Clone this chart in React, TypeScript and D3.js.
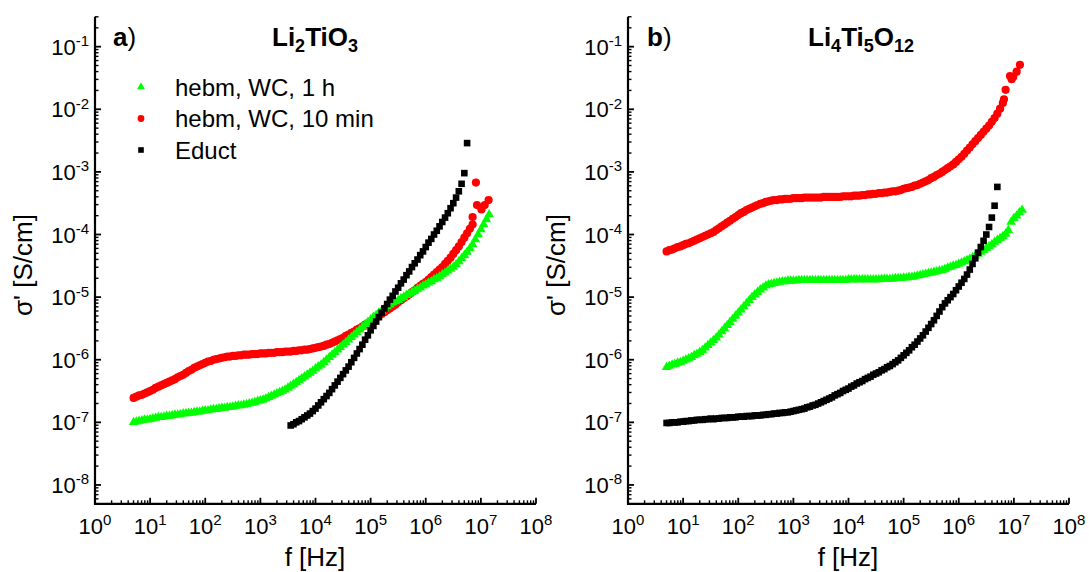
import React from 'react';
import * as d3 from 'd3';

// ---------- data ----------
// measurement frequency grid, log10(f / Hz)
const LOG_F = [
  0.70, 0.75, 0.80, 0.85, 0.90, 0.95, 1.00, 1.05, 1.10, 1.15,
  1.20, 1.25, 1.30, 1.35, 1.40, 1.45, 1.50, 1.55, 1.60, 1.65,
  1.70, 1.75, 1.80, 1.85, 1.90, 1.95, 2.00, 2.05, 2.10, 2.15,
  2.20, 2.25, 2.30, 2.35, 2.40, 2.45, 2.50, 2.55, 2.60, 2.65,
  2.70, 2.75, 2.80, 2.85, 2.90, 2.95, 3.00, 3.05, 3.10, 3.15,
  3.20, 3.25, 3.30, 3.35, 3.40, 3.45, 3.50, 3.55, 3.60, 3.65,
  3.70, 3.75, 3.80, 3.85, 3.90, 3.95, 4.00, 4.05, 4.10, 4.15,
  4.20, 4.25, 4.30, 4.35, 4.40, 4.45, 4.50, 4.55, 4.60, 4.65,
  4.70, 4.75, 4.80, 4.85, 4.90, 4.95, 5.00, 5.05, 5.10, 5.15,
  5.20, 5.25, 5.30, 5.35, 5.40, 5.45, 5.50, 5.55, 5.60, 5.65,
  5.70, 5.75, 5.80, 5.85, 5.90, 5.95, 6.00, 6.05, 6.10, 6.15,
  6.20, 6.25, 6.30, 6.35, 6.40, 6.45, 6.50, 6.55, 6.60, 6.65,
  6.70, 6.75, 6.80, 6.85, 6.90, 6.95, 7.00, 7.05, 7.10, 7.15,
];

// Li2TiO3 — log10(sigma' / S cm^-1)
const LI2TIO3_1H = [
  -7.00, -6.99, -6.98, -6.97, -6.96, -6.96, -6.95, -6.94, -6.93, -6.92,
  -6.92, -6.91, -6.90, -6.90, -6.89, -6.88, -6.88, -6.87, -6.86, -6.86,
  -6.85, -6.85, -6.84, -6.83, -6.83, -6.82, -6.81, -6.81, -6.80, -6.79,
  -6.79, -6.78, -6.77, -6.77, -6.76, -6.76, -6.75, -6.74, -6.73, -6.73,
  -6.72, -6.71, -6.70, -6.69, -6.68, -6.66, -6.65, -6.64, -6.62, -6.60,
  -6.58, -6.56, -6.54, -6.52, -6.50, -6.48, -6.45, -6.42, -6.39, -6.36,
  -6.33, -6.30, -6.27, -6.24, -6.21, -6.18, -6.14, -6.11, -6.08, -6.04,
  -6.00, -5.96, -5.92, -5.88, -5.84, -5.80, -5.76, -5.72, -5.68, -5.64,
  -5.60, -5.56, -5.52, -5.48, -5.44, -5.40, -5.36, -5.32, -5.29, -5.25,
  -5.22, -5.18, -5.15, -5.12, -5.09, -5.07, -5.05, -5.02, -5.00, -4.97,
  -4.95, -4.92, -4.90, -4.87, -4.85, -4.82, -4.80, -4.77, -4.75, -4.72,
  -4.70, -4.67, -4.64, -4.61, -4.58, -4.55, -4.52, -4.48, -4.43, -4.38,
  -4.33, -4.28, -4.22, -4.16, -4.08, -4.00, -3.92, -3.84, -3.76, -3.68,
];
const LI2TIO3_10MIN = [
  -6.61, -6.59, -6.57, -6.56, -6.54, -6.52, -6.50, -6.48, -6.45, -6.43,
  -6.41, -6.39, -6.37, -6.35, -6.33, -6.31, -6.28, -6.26, -6.24, -6.21,
  -6.18, -6.16, -6.13, -6.11, -6.09, -6.07, -6.05, -6.03, -6.02, -6.00,
  -5.99, -5.98, -5.97, -5.96, -5.95, -5.95, -5.94, -5.94, -5.93, -5.93,
  -5.92, -5.92, -5.92, -5.91, -5.91, -5.91, -5.90, -5.90, -5.90, -5.89,
  -5.89, -5.89, -5.88, -5.88, -5.88, -5.87, -5.87, -5.87, -5.86, -5.86,
  -5.85, -5.85, -5.84, -5.84, -5.83, -5.82, -5.81, -5.80, -5.79, -5.78,
  -5.76, -5.75, -5.73, -5.71, -5.69, -5.67, -5.65, -5.62, -5.60, -5.57,
  -5.55, -5.52, -5.50, -5.47, -5.44, -5.42, -5.39, -5.36, -5.33, -5.30,
  -5.27, -5.24, -5.21, -5.18, -5.15, -5.12, -5.08, -5.05, -5.02, -4.99,
  -4.96, -4.92, -4.89, -4.85, -4.82, -4.79, -4.76, -4.72, -4.68, -4.64,
  -4.60, -4.56, -4.52, -4.47, -4.42, -4.37, -4.31, -4.25, -4.19, -4.12,
  -4.05, -3.98, -3.91, -3.84,
];
const LI2TIO3_10MIN_TAIL_F = [6.85, 6.91, 6.93, 7.01, 7.07, 7.14];
const LI2TIO3_10MIN_TAIL = [-3.72, -3.17, -3.53, -3.60, -3.53, -3.45];
const LI2TIO3_EDUCT_START = 3.55;
const LI2TIO3_EDUCT = [
  -7.05, -7.03, -7.00,
  -6.98, -6.95, -6.92, -6.89, -6.86, -6.82, -6.78, -6.73, -6.68, -6.63,
  -6.58, -6.53, -6.47, -6.41, -6.35, -6.29, -6.23, -6.17, -6.11, -6.04,
  -5.97, -5.90, -5.83, -5.76, -5.68, -5.61, -5.53, -5.46, -5.39, -5.32,
  -5.25, -5.18, -5.11, -5.04, -4.98, -4.91, -4.85, -4.78, -4.72, -4.65,
  -4.59, -4.52, -4.46, -4.40, -4.33, -4.27, -4.20, -4.13, -4.07, -4.00,
  -3.94, -3.87, -3.80, -3.73, -3.66, -3.58, -3.50, -3.41, -3.31, -3.19,
  -3.02, -2.54,
];

// Li4Ti5O12 — log10(sigma' / S cm^-1)
const LI4TI5O12_1H = [
  -6.12, -6.10, -6.08, -6.07, -6.05, -6.04, -6.02, -6.00, -5.98, -5.96,
  -5.93, -5.91, -5.88, -5.85, -5.81, -5.77, -5.73, -5.69, -5.65, -5.60,
  -5.55, -5.50, -5.45, -5.40, -5.35, -5.30, -5.25, -5.20, -5.15, -5.10,
  -5.05, -5.00, -4.96, -4.92, -4.88, -4.85, -4.82, -4.80, -4.79, -4.78,
  -4.77, -4.76, -4.75, -4.75, -4.74, -4.74, -4.74, -4.74, -4.73, -4.73,
  -4.73, -4.73, -4.73, -4.73, -4.73, -4.73, -4.73, -4.73, -4.73, -4.73,
  -4.73, -4.73, -4.73, -4.73, -4.73, -4.73, -4.72, -4.72, -4.72, -4.72,
  -4.72, -4.72, -4.72, -4.72, -4.72, -4.72, -4.72, -4.72, -4.71, -4.71,
  -4.71, -4.71, -4.71, -4.70, -4.70, -4.70, -4.69, -4.69, -4.68, -4.68,
  -4.67, -4.66, -4.65, -4.64, -4.63, -4.62, -4.61, -4.60, -4.59, -4.58,
  -4.57, -4.55, -4.53, -4.52, -4.50, -4.49, -4.47, -4.45, -4.43, -4.41,
  -4.39, -4.37, -4.34, -4.31, -4.28, -4.25, -4.22, -4.19, -4.16, -4.12,
  -4.09, -4.06, -4.03, -3.99, -3.93, -3.80, -3.74, -3.70, -3.65, -3.61,
];
const LI4TI5O12_10MIN = [
  -4.27, -4.25, -4.24, -4.22, -4.20, -4.19, -4.17, -4.15, -4.14, -4.12,
  -4.10, -4.08, -4.06, -4.04, -4.02, -4.00, -3.98, -3.96, -3.93, -3.90,
  -3.87, -3.84, -3.81, -3.78, -3.75, -3.72, -3.69, -3.66, -3.64, -3.61,
  -3.59, -3.57, -3.55, -3.53, -3.51, -3.50, -3.48, -3.47, -3.46, -3.45,
  -3.45, -3.44, -3.44, -3.43, -3.43, -3.43, -3.42, -3.42, -3.42, -3.42,
  -3.41, -3.41, -3.41, -3.41, -3.41, -3.41, -3.41, -3.40, -3.40, -3.40,
  -3.40, -3.40, -3.40, -3.40, -3.39, -3.39, -3.39, -3.39, -3.38, -3.38,
  -3.38, -3.37, -3.37, -3.36, -3.36, -3.35, -3.35, -3.34, -3.34, -3.33,
  -3.33, -3.32, -3.31, -3.31, -3.30, -3.29, -3.27, -3.26, -3.25, -3.24,
  -3.22, -3.21, -3.19, -3.17, -3.15, -3.13, -3.10, -3.08, -3.05, -3.03,
  -3.00, -2.97, -2.94, -2.91, -2.88, -2.84, -2.80, -2.76, -2.71, -2.66,
  -2.61, -2.56, -2.51, -2.46, -2.41, -2.36, -2.31, -2.26, -2.20, -2.14,
  -2.07, -1.99, -1.90,
];
const LI4TI5O12_10MIN_TAIL_F = [6.82, 6.85, 6.93, 6.96, 6.99, 7.05, 7.11];
const LI4TI5O12_10MIN_TAIL = [-1.84, -1.69, -1.47, -1.52, -1.48, -1.40, -1.29];
const LI4TI5O12_EDUCT = [
  -7.01, -7.01, -7.00, -7.00, -7.00, -6.99, -6.99, -6.98, -6.98, -6.97,
  -6.97, -6.96, -6.96, -6.96, -6.95, -6.95, -6.94, -6.95, -6.94, -6.94,
  -6.93, -6.93, -6.93, -6.92, -6.92, -6.92, -6.91, -6.91, -6.91, -6.90,
  -6.90, -6.90, -6.89, -6.89, -6.89, -6.88, -6.88, -6.87, -6.87, -6.86,
  -6.86, -6.85, -6.85, -6.84, -6.84, -6.83, -6.82, -6.81, -6.80, -6.79,
  -6.78, -6.76, -6.75, -6.73, -6.72, -6.70, -6.68, -6.66, -6.64, -6.62,
  -6.60, -6.57, -6.55, -6.53, -6.50, -6.48, -6.46, -6.43, -6.41, -6.38,
  -6.36, -6.34, -6.31, -6.29, -6.27, -6.24, -6.22, -6.20, -6.17, -6.15,
  -6.12, -6.10, -6.07, -6.04, -6.01, -5.97, -5.93, -5.89, -5.85, -5.80,
  -5.76, -5.71, -5.66, -5.61, -5.55, -5.49, -5.43, -5.37, -5.30, -5.23,
  -5.16, -5.10, -5.05, -5.00, -4.95, -4.89, -4.83, -4.77, -4.71, -4.64,
  -4.56, -4.47, -4.38, -4.29, -4.20, -4.10, -4.00, -3.88, -3.73, -3.54,
  -3.24,
];

const SERIES_LABELS = ['hebm, WC, 1 h', 'hebm, WC, 10 min', 'Educt'];
const X_TICK_EXPONENTS = [0, 1, 2, 3, 4, 5, 6, 7, 8];
const Y_TICK_EXPONENTS = [-8, -7, -6, -5, -4, -3, -2, -1];
const X_TITLE = 'f [Hz]';
const Y_TITLE = "\u03c3' [S/cm]";

// ---------- layout ----------
const W = 1089;
const H = 572;
const Y_TOP = 16.8;
const Y_BOT = 503.8;
const FONT = "'Liberation Sans', Arial, Helvetica, sans-serif";
const GREEN = '#00ff00';
const RED = '#ff0000';
const BLACK = '#000000';

type Pt = { f: number; s: number };
type Shape = 'tri' | 'circ' | 'sq';
type Series = { color: string; shape: Shape; points: Pt[] };

function toPoints(logF: number[], logS: number[]): Pt[] {
  return logS.map((v, i) => ({ f: Math.pow(10, logF[i]), s: Math.pow(10, v) }));
}
function fromGrid(start: number, logS: number[]): Pt[] {
  const i0 = LOG_F.indexOf(start);
  return toPoints(LOG_F.slice(i0), logS);
}

const triPath = d3.symbol().type(d3.symbolTriangle).size(40)() as string;
const triPathSmall = d3.symbol().type(d3.symbolTriangle).size(28)() as string;

function Marker({ shape, x, y, color, legend }: { shape: Shape; x: number; y: number; color: string; legend?: boolean }) {
  if (shape === 'tri') {
    return <path d={legend ? triPathSmall : triPath} transform={`translate(${x},${y})`} fill={color} />;
  }
  if (shape === 'circ') {
    return <circle cx={x} cy={y} r={legend ? 3.4 : 4.1} fill={color} />;
  }
  const s = legend ? 5.6 : 6.6;
  return <rect x={x - s / 2} y={y - s / 2} width={s} height={s} fill={color} />;
}

const LEFT_SERIES: Series[] = [
  { color: RED, shape: 'circ', points: [...fromGrid(0.7, LI2TIO3_10MIN), ...toPoints(LI2TIO3_10MIN_TAIL_F, LI2TIO3_10MIN_TAIL)] },
  { color: GREEN, shape: 'tri', points: fromGrid(0.7, LI2TIO3_1H) },
  { color: BLACK, shape: 'sq', points: fromGrid(LI2TIO3_EDUCT_START, LI2TIO3_EDUCT) },
];
const RIGHT_SERIES: Series[] = [
  { color: RED, shape: 'circ', points: [...fromGrid(0.7, LI4TI5O12_10MIN), ...toPoints(LI4TI5O12_10MIN_TAIL_F, LI4TI5O12_10MIN_TAIL)] },
  { color: GREEN, shape: 'tri', points: fromGrid(0.7, LI4TI5O12_1H) },
  { color: BLACK, shape: 'sq', points: fromGrid(0.7, LI4TI5O12_EDUCT) },
];
const LEGEND: { color: string; shape: Shape; label: string }[] = [
  { color: GREEN, shape: 'tri', label: SERIES_LABELS[0] },
  { color: RED, shape: 'circ', label: SERIES_LABELS[1] },
  { color: BLACK, shape: 'sq', label: SERIES_LABELS[2] },
];

function Panel({
  left, right, letter, letterX, title, yTitleX, xTitleX, series, legend,
}: {
  left: number; right: number; letter: string; letterX: number; title: React.ReactNode;
  yTitleX: number; xTitleX: number; series: Series[]; legend: boolean;
}) {
  const x = d3.scaleLog().domain([1, 1e8]).range([left, right]);
  const y = d3.scaleLog().domain([5e-9, 0.3]).range([Y_BOT, Y_TOP]);
  const isMajor = (t: number) => Math.abs(Math.log10(t) - Math.round(Math.log10(t))) < 1e-9;
  const xt = x.ticks();
  const yt = y.ticks();
  const yMid = 265;
  return (
    <g>
      {/* data */}
      {series.map((s, si) => (
        <g key={si}>
          {s.points.map((p, i) => (
            <Marker key={i} shape={s.shape} x={x(p.f)} y={y(p.s)} color={s.color} />
          ))}
        </g>
      ))}
      {/* axes */}
      <line x1={left} x2={left} y1={Y_TOP} y2={Y_BOT + 1} stroke="#000" strokeWidth={2.2} />
      <line x1={left - 1} x2={right} y1={Y_BOT} y2={Y_BOT} stroke="#000" strokeWidth={2.2} />
      {xt.map((t, i) => {
        const maj = isMajor(t);
        return <line key={'xt' + i} x1={x(t)} x2={x(t)} y1={Y_BOT} y2={Y_BOT - (maj ? 6 : 3.5)} stroke="#000" strokeWidth={maj ? 1.8 : 1.4} />;
      })}
      {yt.map((t, i) => {
        const maj = isMajor(t);
        return <line key={'yt' + i} x1={left} x2={left + (maj ? 6 : 3.5)} y1={y(t)} y2={y(t)} stroke="#000" strokeWidth={maj ? 1.8 : 1.4} />;
      })}
      {X_TICK_EXPONENTS.map((e) => (
        <text key={'xl' + e} x={x(Math.pow(10, e))} y={534} textAnchor="middle" fontSize={22} fontFamily={FONT} fill="#000">
          10<tspan dy={-9} fontSize={15}>{e}</tspan>
        </text>
      ))}
      {Y_TICK_EXPONENTS.map((e) => (
        <text key={'yl' + e} x={left - 6} y={y(Math.pow(10, e)) + 8} textAnchor="end" fontSize={22} fontFamily={FONT} fill="#000">
          10<tspan dy={-8.5} fontSize={15}>{e}</tspan>
        </text>
      ))}
      {/* axis titles */}
      <text x={xTitleX} y={566} textAnchor="middle" fontSize={26} fontFamily={FONT} fill="#000">{X_TITLE}</text>
      <text transform={`translate(${yTitleX},${yMid}) rotate(-90)`} textAnchor="middle" fontSize={26} fontFamily={FONT} fill="#000">{Y_TITLE}</text>
      {/* panel letter and title */}
      <text x={letterX} y={46} fontSize={26} fontFamily={FONT} fill="#000">
        <tspan fontWeight="bold">{letter}</tspan>)
      </text>
      {title}
      {legend && LEGEND.map((l, i) => {
        const cy = 87 + i * 31.5;
        return (
          <g key={'lg' + i}>
            <Marker shape={l.shape} x={141} y={cy} color={l.color} legend />
            <text x={175} y={cy + 8.5} fontSize={24} fontFamily={FONT} fill="#000">{l.label}</text>
          </g>
        );
      })}
    </g>
  );
}

export default function App() {
  const leftTitle = (
    <text x={272} y={46} fontSize={26} fontWeight="bold" fontFamily={FONT} fill="#000">
      Li<tspan dy={6} fontSize={18}>2</tspan><tspan dy={-6}>TiO</tspan><tspan dy={6} fontSize={18}>3</tspan>
    </text>
  );
  const rightTitle = (
    <text x={808} y={46} fontSize={26} fontWeight="bold" fontFamily={FONT} fill="#000">
      Li<tspan dy={6} fontSize={18}>4</tspan><tspan dy={-6}>Ti</tspan><tspan dy={6} fontSize={18}>5</tspan><tspan dy={-6}>O</tspan><tspan dy={6} fontSize={18}>12</tspan>
    </text>
  );
  return (
    <svg width={W} height={H} viewBox={`0 0 ${W} ${H}`} style={{ position: 'absolute', left: 0, top: 0, background: '#fff' }}>
      <rect x={0} y={0} width={W} height={H} fill="#fff" />
      <Panel left={95} right={536} letter="a" letterX={113} title={leftTitle} yTitleX={32} xTitleX={315} series={LEFT_SERIES} legend={true} />
      <Panel left={628} right={1069} letter="b" letterX={647} title={rightTitle} yTitleX={565} xTitleX={848} series={RIGHT_SERIES} legend={false} />
    </svg>
  );
}
